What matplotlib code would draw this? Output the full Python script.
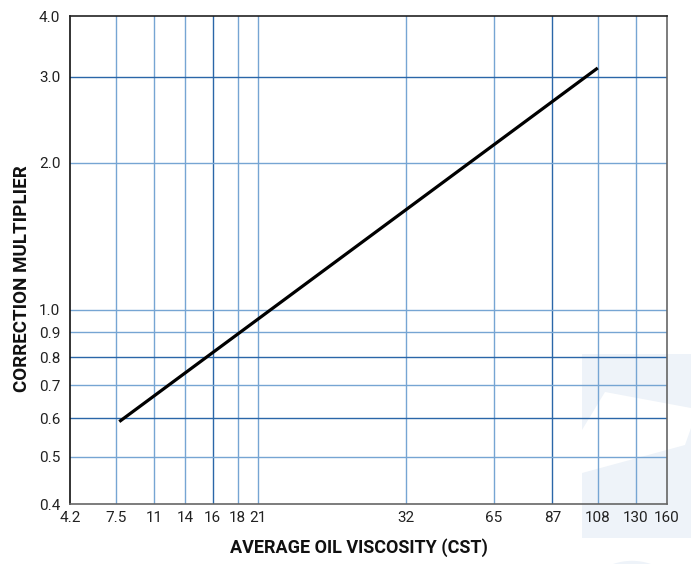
import numpy as np
import matplotlib
matplotlib.use("Agg")
import matplotlib.pyplot as plt
from matplotlib.patches import Polygon, Circle

# Viscosity tick values and where they sit along the chart's x axis (0..1)
visc_ticks = [4.2, 7.5, 11, 14, 16, 18, 21, 32, 65, 87, 108, 130, 160]
visc_axis_frac = [0.0, 0.0771, 0.1407, 0.1932, 0.2391, 0.2810, 0.3145,
                  0.5629, 0.7098, 0.8079, 0.8840, 0.9481, 1.0]

mult_ticks = [0.4, 0.5, 0.6, 0.7, 0.8, 0.9, 1.0, 2.0, 3.0, 4.0]
mult_labels = ["0.4", "0.5", "0.6", "0.7", "0.8", "0.9", "1.0", "2.0", "3.0", "4.0"]

# Correction curve end points
line_visc = [7.8, 108]
line_mult = [0.59, 3.13]

dark_h = {0.6, 0.8, 3.0}
dark_v = {16, 87}

plt.rcParams["font.family"] = ["Roboto", "DejaVu Sans"]

W, H = 691, 564
fig = plt.figure(figsize=(W / 100, H / 100), dpi=100)


def px(x, y):
    return (x / W, 1 - y / H)


# faint background emblem at the lower right
bg = "#eef3f9"
fig.patches.append(Polygon([px(582, 354), px(691, 354), px(691, 538), px(582, 538)],
                           closed=True, transform=fig.transFigure, facecolor=bg,
                           edgecolor="none", zorder=-5))
fig.patches.append(Polygon([px(605, 392), px(691, 408), px(691, 428), px(685, 445),
                            px(582, 473), px(582, 430)],
                           closed=True, transform=fig.transFigure, facecolor="white",
                           edgecolor="none", zorder=-4))
fig.patches.append(Circle(px(632, 600), 48 / W, transform=fig.transFigure,
                          facecolor=bg, edgecolor="none", zorder=-5))

ax = fig.add_axes([70 / W, 60 / H, 597 / W, 488 / H])
ax.set_facecolor("none")


def fwd(x):
    return np.interp(x, visc_ticks, visc_axis_frac)


def inv(p):
    return np.interp(p, visc_axis_frac, visc_ticks)


ax.set_xscale("function", functions=(fwd, inv))
ax.set_yscale("log")
ax.set_xlim(visc_ticks[0], visc_ticks[-1])
ax.set_ylim(0.4, 4.0)

ax.set_xticks(visc_ticks)
ax.set_xticklabels([f"{v:g}" for v in visc_ticks])
ax.set_yticks(mult_ticks)
ax.set_yticklabels(mult_labels)
ax.minorticks_off()
ax.tick_params(axis="both", length=0, labelsize=11, colors="#222222")
ax.tick_params(axis="y", pad=7)
ax.tick_params(axis="x", pad=5)

for v in visc_ticks[1:-1]:
    ax.axvline(v, color="#2a66a8" if v in dark_v else "#76a5d3",
               lw=1.0, zorder=1)
for m in mult_ticks[1:-1]:
    ax.axhline(m, color="#2a66a8" if m in dark_h else "#76a5d3",
               lw=1.0, zorder=1)

ax.plot(line_visc, line_mult, color="black", lw=2.3, solid_capstyle="butt", zorder=3)

ax.spines["left"].set_color("#111111")
ax.spines["top"].set_color("#222222")
ax.spines["right"].set_color("#666666")
ax.spines["bottom"].set_color("#666666")
for s in ax.spines.values():
    s.set_linewidth(1.2)

fig.text(359 / W, 1 - 548 / H, "AVERAGE OIL VISCOSITY (CST)", ha="center", va="center",
         fontsize=13, fontweight="bold", color="#111111")
fig.text(22 / W, 1 - 279 / H, "CORRECTION MULTIPLIER", ha="center", va="center",
         rotation=90, fontsize=13.5, fontweight="bold", color="#111111")

fig.savefig("out.png", dpi=100)
